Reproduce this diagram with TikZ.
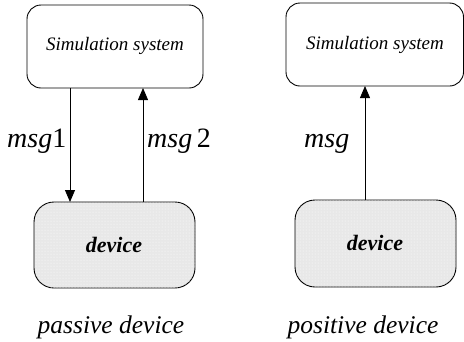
\documentclass[tikz,border=0pt]{standalone}
\usepackage{fontspec}
\setmainfont{Liberation Serif}
\usetikzlibrary{arrows.meta,patterns}
\begin{document}
\begin{tikzpicture}[x=1pt,y=-1pt,
  sysbox/.style={draw,line width=0.9pt,rounded corners=14pt},
  devbox/.style={draw,line width=0.9pt,rounded corners=20pt,fill=gray!18,
    postaction={pattern=dots,pattern color=white}},
  arr/.style={line width=0.8pt,-{Triangle[length=12pt,width=10pt]}},
  lbl/.style={font=\fontsize{19}{22}\selectfont\itshape},
  msgl/.style={font=\fontsize{28}{32}\selectfont\itshape,inner sep=0pt},
  devl/.style={font=\fontsize{22}{26}\selectfont\bfseries\itshape},
  capl/.style={font=\fontsize{25.5}{30}\selectfont\itshape}]
\useasboundingbox (0,0) rectangle (464,341);
% left
\draw[sysbox] (27,5) rectangle (203,88);
\node[lbl] (s1) at (115,46) {Simulation system};
\draw[devbox] (34,202) rectangle (195,288);
\node[devl] (d1) at (114,245) {device};
\coordinate (a1t) at (70,88);
\coordinate (a1b) at (70,202);
\coordinate (a2b) at (143,202);
\coordinate (a2t) at (143,88);
\draw[arr] (a1t) -- (a1b);
\draw[arr] (a2b) -- (a2t);
\node[msgl,anchor=base west] (m1) at (7,147) {msg{\upshape 1}};
\node[msgl,anchor=base west] (m2) at (147,147) {msg\,{\upshape 2}};
\node[capl] (c1) at (111,327) {passive device};
% right
\draw[sysbox] (286,3) rectangle (463.5,86);
\node[lbl] (s2) at (375,45) {Simulation system};
\draw[devbox] (295,200) rectangle (456,287);
\node[devl] (d2) at (375,243) {device};
\coordinate (a3b) at (365,200);
\coordinate (a3t) at (365,86);
\draw[arr] (a3b) -- (a3t);
\node[msgl,anchor=base west] (m3) at (304,147) {msg};
\node[capl] (c2) at (363,327) {positive device};
\end{tikzpicture}
\end{document}
